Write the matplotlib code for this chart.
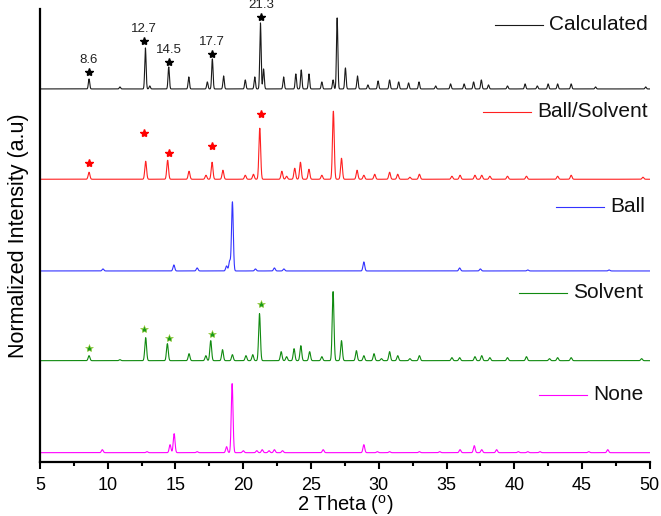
import numpy as np
import matplotlib
matplotlib.use('Agg')
from matplotlib import pyplot as plt

plt.rcParams['font.family'] = ['Liberation Sans', 'DejaVu Sans']

# peak lists: (2theta, height above baseline)
calc_pos = [8.62, 10.9, 12.78, 13.1, 14.5, 15.98, 17.35, 17.72, 18.55, 20.15, 20.85, 21.27, 21.5,
            22.98, 23.88, 24.28, 24.85, 25.8, 26.63, 26.93, 27.54, 28.43, 29.2, 29.95, 30.8,
            31.47, 32.2, 32.97, 34.2, 35.3, 36.3, 37.0, 37.57, 38.1, 39.5, 40.8, 41.7, 42.5,
            43.2, 44.2, 46.0, 49.7]
calc_h = [10, 2, 41, 3, 22, 12, 7, 30, 13, 9, 12, 66, 20,
          12, 15, 19, 15, 7, 9, 71, 21, 13, 4, 8, 9,
          7, 6, 7, 3, 5, 5, 7, 9, 4, 3, 5, 3, 5,
          5, 5, 2, 2]

bs_pos = [8.62, 12.8, 14.42, 16.0, 17.25, 17.7, 18.5, 20.15, 20.75, 21.22, 22.85, 23.2, 23.8,
          24.22, 24.85, 25.8, 26.65, 27.25, 28.4, 28.9, 29.7, 30.8, 31.4, 32.3, 33.0, 35.4,
          36.0, 37.1, 37.6, 38.2, 39.5, 40.9, 43.2, 44.2, 49.5]
bs_h = [7, 18, 19, 8, 4, 17, 9, 4, 5, 51, 8, 3, 11,
        17, 10, 4, 68, 21, 9, 4, 5, 7, 5, 2, 5, 3,
        4, 4, 4, 3, 3, 3, 3, 4, 2]

ball_pos = [9.65, 14.88, 16.6, 18.77, 19.0, 19.2, 20.9, 22.3, 23.0, 28.9, 35.97, 37.5, 41.0, 47.0]
ball_h = [2, 6, 3, 5, 10, 69, 2, 3, 2, 9, 3, 2, 1, 1]

solv_pos = [8.62, 10.9, 12.8, 14.4, 16.0, 17.24, 17.6, 18.47, 19.2, 20.2, 20.7, 21.2, 22.8,
            23.2, 23.75, 24.25, 24.9, 25.8, 26.63, 27.25, 28.35, 28.9, 29.65, 30.2, 30.8, 31.4,
            32.3, 33.0, 35.4, 35.97, 37.1, 37.6, 38.2, 39.5, 40.9, 42.6, 43.2, 44.2, 49.4]
solv_h = [5, 1, 23, 17, 7, 5, 20, 11, 6, 5, 6, 47, 9,
          4, 12, 15, 9, 4, 69, 20, 10, 5, 7, 2, 9, 5,
          2, 5, 3, 3, 4, 5, 3, 3, 4, 2, 3, 3, 2]

none_pos = [9.6, 12.9, 14.6, 14.9, 16.6, 18.77, 19.18, 20.0, 21.0, 21.4, 21.9, 22.3, 22.9, 25.9,
            28.9, 29.9, 30.8, 33.0, 34.5, 36.0, 37.05, 37.6, 38.7, 40.3, 41.0, 41.9, 45.5, 46.9]
none_h = [3, 1, 8, 19, 1, 6, 69, 2, 2, 3, 2, 3, 2, 3,
          8, 1, 1, 1, 1, 3, 7, 3, 3, 1, 1, 1, 1, 3]

names = ['Calculated', 'Ball/Solvent', 'Ball', 'Solvent', 'None']
colors = ['#1a1a1a', '#ff2020', '#3333ff', '#108a10', '#ff00ff']
peaks = [(calc_pos, calc_h), (bs_pos, bs_h), (ball_pos, ball_h), (solv_pos, solv_h), (none_pos, none_h)]
offsets = [373, 282.7, 191, 101.3, 9.3]
widths = [0.05, 0.065, 0.065, 0.065, 0.065]

# marked reflections
star_x = [8.6, 12.7, 14.5, 17.7, 21.3]
star_labels = ['8.6', '12.7', '14.5', '17.7', '21.3']
star_calc = [17, 48, 27, 35, 72]
star_bs = [16, 46, 26, 33, 65]
star_solv = [13, 32, 23, 27, 57]

tt = np.arange(5, 50.001, 0.01)

fig = plt.figure(figsize=(6.61, 5.16), dpi=100)
ax = fig.add_axes([0.0605, 0.1047, 0.9225, 0.878])

for (pos, h), off, w, c in zip(peaks, offsets, widths, colors):
    y = np.zeros_like(tt)
    for p, hh in zip(pos, h):
        y += hh * np.exp(-0.5 * ((tt - p) / w) ** 2)
    ax.plot(tt, y + off, color=c, lw=0.8)

ax.plot(star_x, np.array(star_calc) + offsets[0], ls='none', marker='*', ms=6, color='black', clip_on=False)
ax.plot(star_x, np.array(star_bs) + offsets[1], ls='none', marker='*', ms=6, color='red')
ax.plot(star_x, np.array(star_solv) + offsets[3], ls='none', marker='*', ms=6, color='#1a9a1a',
        markeredgecolor='#9acd32', markeredgewidth=0.4)
for x, s, lab in zip(star_x, star_calc, star_labels):
    ax.annotate(lab, (x, s + offsets[0]), xytext=(0, 4), textcoords='offset points',
                ha='center', va='bottom', fontsize=9.5, color='#222222', annotation_clip=False)

# legend-style labels next to each trace
leg_x = [38.56, 37.68, 43.07, 40.33, 41.8]
leg_y = [437, 350, 255, 169, 67]
for n, c, lx, ly in zip(names, colors, leg_x, leg_y):
    ax.plot([lx, lx + 3.55], [ly, ly], color=c, lw=0.8)
    ax.text(lx + 4.0, ly, n, fontsize=15, va='center', ha='left', color='#111111')

ax.set_xlim(5, 50)
ax.set_ylim(0, 453)
ax.set_xticks(np.arange(5, 51, 5))
ax.set_xticks(np.arange(7.5, 50, 5), minor=True)
ax.set_yticks([])
ax.tick_params(axis='x', which='major', direction='out', length=5, width=1.5, labelsize=13, pad=6)
ax.tick_params(axis='x', which='minor', direction='out', length=3, width=1.5)
ax.spines['top'].set_visible(False)
ax.spines['right'].set_visible(False)
ax.spines['left'].set_linewidth(1.6)
ax.spines['bottom'].set_linewidth(1.6)
ax.set_xlabel('2 Theta ($^\\mathregular{o}$)', fontsize=14.5, labelpad=-1)
ax.set_ylabel('Normalized Intensity (a.u)', fontsize=15.5, labelpad=8)

fig.savefig('out.png', dpi=100)
